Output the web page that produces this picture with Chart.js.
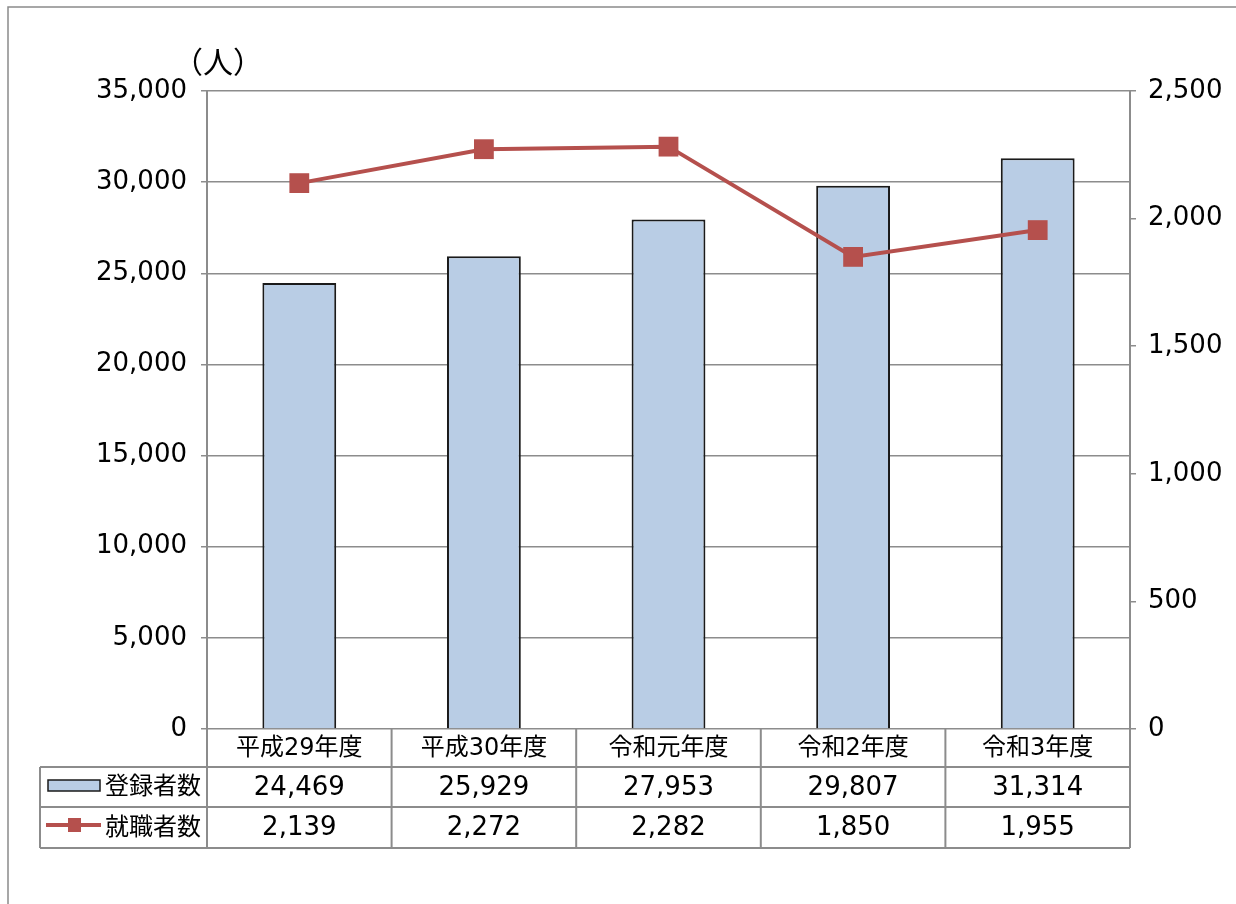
<!DOCTYPE html>
<html>
<head>
<meta charset="utf-8">
<script src="https://cdn.jsdelivr.net/npm/chart.js@4"></script>
<style>
    html, body { margin: 0; padding: 0; background: #fff; }
</style>
</head>
<body>
<canvas id="myChart" width="1236" height="904"></canvas>
<script>
// data
var categories = ['平成29年度', '平成30年度', '令和元年度', '令和2年度', '令和3年度'];
var seriesNames = ['登録者数', '就職者数'];
var registered = [24469, 25929, 27953, 29807, 31314];
var employed = [2139, 2272, 2282, 1850, 1955];
var unitLabel = '（人）';
var leftMax = 35000, leftStep = 5000;
var rightMax = 2500, rightStep = 500;

var FONT = "'DejaVu Sans', 'Noto Sans CJK JP', sans-serif";
var CJK = "'Noto Sans CJK JP', sans-serif";
var GRID = '#8c8c8c';
var BAR_FILL = '#b9cde5';
var LINE_COL = '#b5504d';

function fmt(v) {
    return Number(v).toLocaleString('en-US');
}

// frame, unit label and the data table under the plot
var tablePlugin = {
    id: 'tablePlugin',
    afterDraw: function (chart) {
        var ctx = chart.ctx;
        var area = chart.chartArea;
        var x = chart.scales.x;
        var y0 = area.bottom, y1 = 767, y2 = 807, y3 = 848;
        var left = 40;
        ctx.save();

        // outer frame
        ctx.strokeStyle = '#8a8a8a';
        ctx.lineWidth = 1.5;
        ctx.strokeRect(8, 7, 1240, 910);

        // unit
        ctx.fillStyle = '#000';
        ctx.font = '30px ' + CJK;
        ctx.textAlign = 'center';
        ctx.textBaseline = 'middle';
        ctx.fillText(unitLabel, 218, 62);

        // table lines
        ctx.strokeStyle = GRID;
        ctx.lineWidth = 2;
        ctx.beginPath();
        [y1, y2, y3].forEach(function (yy) {
            ctx.moveTo(left, yy);
            ctx.lineTo(area.right, yy);
        });
        ctx.moveTo(left, y1);
        ctx.lineTo(left, y3);
        var w = (area.right - area.left) / categories.length;
        for (var i = 0; i <= categories.length; i++) {
            var xx = area.left + i * w;
            ctx.moveTo(xx, y0);
            ctx.lineTo(xx, y3);
        }
        ctx.stroke();

        // cell texts
        ctx.fillStyle = '#000';
        ctx.textAlign = 'center';
        categories.forEach(function (c, i) {
            var cx = x.getPixelForValue(i);
            ctx.font = '24px ' + FONT;
            ctx.fillText(c, cx, (y0 + y1) / 2 + 1);
            ctx.font = '26px ' + FONT;
            ctx.fillText(fmt(registered[i]), cx, (y1 + y2) / 2 + 1);
            ctx.fillText(fmt(employed[i]), cx, (y2 + y3) / 2 + 1);
        });

        // row labels with legend keys
        ctx.font = '24px ' + FONT;
        ctx.textAlign = 'right';
        ctx.fillText(seriesNames[0], 201, (y1 + y2) / 2 + 1);
        ctx.fillText(seriesNames[1], 201, (y2 + y3) / 2 + 1);

        ctx.fillStyle = BAR_FILL;
        ctx.strokeStyle = '#1a1a1a';
        ctx.lineWidth = 1.5;
        ctx.fillRect(48, 780, 52, 11);
        ctx.strokeRect(48, 780, 52, 11);

        ctx.strokeStyle = LINE_COL;
        ctx.lineWidth = 4;
        ctx.beginPath();
        ctx.moveTo(46, 825);
        ctx.lineTo(101, 825);
        ctx.stroke();
        ctx.fillStyle = LINE_COL;
        ctx.fillRect(68, 818, 13, 14);

        ctx.restore();
    }
};

var ctx = document.getElementById('myChart');
var myChart = new Chart(ctx, {
    type: 'bar',
    data: {
        labels: categories,
        datasets: [{
            type: 'line',
            label: seriesNames[1],
            data: employed,
            yAxisID: 'y1',
            borderColor: LINE_COL,
            backgroundColor: LINE_COL,
            borderWidth: 4,
            pointStyle: 'rect',
            pointRadius: 14,
            pointBorderWidth: 0,
            tension: 0,
            order: 1
        }, {
            type: 'bar',
            label: seriesNames[0],
            data: registered,
            yAxisID: 'y',
            backgroundColor: BAR_FILL,
            borderColor: '#1a1a1a',
            borderWidth: 2,
            barPercentage: 0.4,
            categoryPercentage: 1,
            order: 2
        }]
    },
    options: {
        responsive: false,
        animation: false,
        devicePixelRatio: 1,
        layout: { padding: { top: 91, bottom: 175, left: 0, right: 0 } },
        plugins: {
            legend: { display: false },
            tooltip: { enabled: false }
        },
        scales: {
            x: { display: false },
            y: {
                position: 'left',
                min: 0,
                max: leftMax,
                ticks: {
                    stepSize: leftStep,
                    color: '#000',
                    padding: 14,
                    font: { family: FONT, size: 26 },
                    callback: function (v) { return fmt(v); }
                },
                grid: { color: GRID, lineWidth: 1.5, tickLength: 6 },
                border: { color: GRID, width: 2 },
                afterFit: function (scale) { scale.width = 207; }
            },
            y1: {
                position: 'right',
                min: 0,
                max: rightMax,
                ticks: {
                    stepSize: rightStep,
                    color: '#000',
                    padding: 12,
                    font: { family: FONT, size: 26 },
                    callback: function (v) { return fmt(v); }
                },
                grid: { drawOnChartArea: false, color: GRID, lineWidth: 1.5, tickLength: 6 },
                border: { color: GRID, width: 2 },
                afterFit: function (scale) { scale.width = 106; }
            }
        }
    },
    plugins: [tablePlugin]
});
</script>
</body>
</html>
